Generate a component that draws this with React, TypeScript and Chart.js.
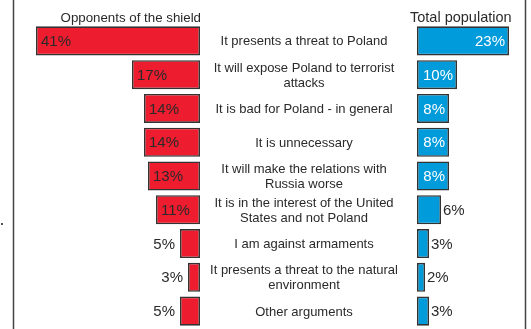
import React, { useEffect, useRef } from "react";
import { Chart, registerables } from "chart.js";

Chart.register(...registerables);

const categories: string[][] = [
  ["It presents a threat to Poland"],
  ["It will expose Poland to terrorist", "attacks"],
  ["It is bad for Poland - in general"],
  ["It is unnecessary"],
  ["It will make the relations with", "Russia worse"],
  ["It is in the interest of the United", "States and not Poland"],
  ["I am against armaments"],
  ["It presents a threat to the natural", "environment"],
  ["Other arguments"],
];
const opponents: number[] = [41, 17, 14, 14, 13, 11, 5, 3, 5];
const population: number[] = [23, 10, 8, 8, 8, 6, 3, 2, 3];
const leftTitle = "Opponents of the shield";
const rightTitle = "Total population";

const RED = "#ED1C2E";
const BLUE = "#009BDB";
const EDGE = "#333333";
const TEXT = "#2a2a2a";
const FONT = "'Liberation Sans', Arial, sans-serif";

const decorPlugin = {
  id: "decor",
  afterDraw(chart: any) {
    const ctx = chart.ctx;
    const xL = chart.scales.xL;
    const xM = chart.scales.xM;
    const xR = chart.scales.xR;
    ctx.save();
    // frame lines
    ctx.strokeStyle = "#444";
    ctx.lineWidth = 1.5;
    ctx.beginPath();
    ctx.moveTo(13.5, 0);
    ctx.lineTo(13.5, chart.height);
    ctx.moveTo(525.5, 0);
    ctx.lineTo(525.5, chart.height);
    ctx.stroke();
    ctx.fillStyle = "#555";
    ctx.fillRect(1, 223, 2, 2);

    // titles
    ctx.fillStyle = TEXT;
    ctx.textBaseline = "middle";
    ctx.font = `13.3px ${FONT}`;
    ctx.textAlign = "right";
    ctx.fillText(leftTitle, xL.right + 1, 18);
    ctx.font = `14.5px ${FONT}`;
    ctx.textAlign = "left";
    ctx.fillText(rightTitle, xR.left - 7, 18);

    // category labels
    const metaL = chart.getDatasetMeta(0);
    const cx = xM.left + 104;
    ctx.textAlign = "center";
    ctx.font = `13px ${FONT}`;
    metaL.data.forEach((el: any, i: number) => {
      const lines = categories[i];
      const lh = 15;
      const y0 = el.y + 1 - ((lines.length - 1) * lh) / 2;
      lines.forEach((t, k) => ctx.fillText(t, cx, y0 + k * lh));
    });

    // value labels
    ctx.font = `15px ${FONT}`;
    metaL.data.forEach((el: any, i: number) => {
      const v = opponents[i];
      const txt = v + "%";
      const w = ctx.measureText(txt).width;
      const left = Math.min(el.x, el.base);
      const width = Math.abs(el.base - el.x);
      ctx.fillStyle = TEXT;
      if (width > w + 8) {
        ctx.textAlign = "left";
        ctx.fillText(txt, left + 5, el.y + 1);
      } else {
        ctx.textAlign = "right";
        ctx.fillText(txt, left - 5, el.y + 1);
      }
    });
    const metaR = chart.getDatasetMeta(1);
    metaR.data.forEach((el: any, i: number) => {
      const v = population[i];
      const txt = v + "%";
      const w = ctx.measureText(txt).width;
      const right = Math.max(el.x, el.base);
      const width = Math.abs(el.x - el.base);
      if (width > w + 6) {
        ctx.fillStyle = "#ffffff";
        ctx.textAlign = "right";
        ctx.fillText(txt, right - 4, el.y + 1);
      } else {
        ctx.fillStyle = TEXT;
        ctx.textAlign = "left";
        ctx.fillText(txt, right + 2, el.y + 1);
      }
    });
    ctx.restore();
  },
};

export default function App() {
  const ref = useRef<HTMLCanvasElement | null>(null);
  useEffect(() => {
    if (!ref.current) return;
    const chart = new Chart(ref.current, {
      type: "bar",
      data: {
        labels: categories.map((c) => c.join(" ")),
        datasets: [
          {
            data: opponents,
            xAxisID: "xL",
            backgroundColor: RED,
            borderColor: EDGE,
            borderWidth: 1.6,
            borderSkipped: false,
            grouped: false,
            barPercentage: 0.86,
            categoryPercentage: 1,
          },
          {
            data: population,
            xAxisID: "xR",
            backgroundColor: BLUE,
            borderColor: EDGE,
            borderWidth: 1.6,
            borderSkipped: false,
            grouped: false,
            barPercentage: 0.86,
            categoryPercentage: 1,
          },
        ],
      },
      options: {
        indexAxis: "y",
        responsive: false,
        animation: false,
        layout: { padding: { left: 14, right: 6, top: 24, bottom: 1 } },
        plugins: { legend: { display: false }, tooltip: { enabled: false } },
        scales: {
          y: { display: false },
          xL: {
            type: "linear",
            position: "bottom",
            stack: "row",
            stackWeight: 186,
            reverse: true,
            min: 0,
            max: 46.5,
            display: false,
          },
          xM: {
            type: "linear",
            position: "bottom",
            stack: "row",
            stackWeight: 217,
            min: 0,
            max: 1,
            display: false,
          },
          xR: {
            type: "linear",
            position: "bottom",
            stack: "row",
            stackWeight: 108,
            min: 0,
            max: 27,
            display: false,
          },
        },
      } as any,
      plugins: [decorPlugin],
    });
    return () => chart.destroy();
  }, []);
  return (
    <div style={{ position: "absolute", left: 0, top: 0, width: 531, height: 329, background: "#fff" }}>
      <canvas ref={ref} width={531} height={329} style={{ display: "block" }} />
    </div>
  );
}
